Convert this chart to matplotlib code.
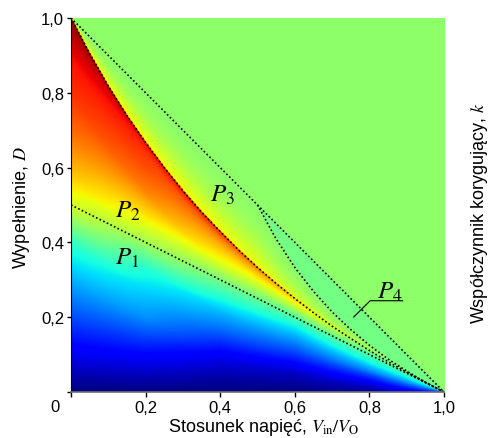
import numpy as np
import matplotlib
matplotlib.use('Agg')
import matplotlib.pyplot as plt

plt.rcParams['font.family'] = ['Liberation Sans', 'DejaVu Sans']
plt.rcParams['mathtext.fontset'] = 'stix'

# ---- data ----
# P3 boundary curve (D vs Vin/Vo)
ratio_pts = [0.0, 0.05, 0.1, 0.15, 0.2, 0.25, 0.3, 0.35, 0.4, 0.45, 0.5,
             0.55, 0.6, 0.65, 0.7, 0.75, 0.8, 0.85, 0.9, 0.95, 1.0]
p3_boundary_D = [1.0, 0.905, 0.818, 0.739, 0.667, 0.6, 0.538, 0.481, 0.429, 0.379, 0.333,
                 0.290, 0.25, 0.212, 0.176, 0.143, 0.111, 0.081, 0.053, 0.026, 0.0]
# P4 boundary curve
p4_ratio = [0.5, 0.55, 0.6, 0.65, 0.7, 0.75, 0.8, 0.85, 0.9, 0.95, 1.0]
p4_boundary_D = [0.5, 0.409, 0.333, 0.269, 0.214, 0.167, 0.125, 0.088, 0.056, 0.026, 0.0]
# straight boundaries
ccm_ratio = [0.0, 1.0]
ccm_D = [1.0, 0.0]
p1_ratio = [0.0, 1.0]
p1_D = [0.5, 0.0]

# k (colour scale 0..1) below the P3 boundary, at columns of Vin/Vo,
# sampled at fractions u of the height up to the P3 boundary
k_cols_x = [0.0, 0.2, 0.4, 0.6, 0.8, 1.0]
k_rows_u = [0.0, 0.1, 0.2, 0.3, 0.4, 0.5, 0.6, 0.7, 0.8, 0.9, 0.95, 0.98, 1.0]
k_col_00 = [0.00, 0.10, 0.20, 0.30, 0.41, 0.61, 0.72, 0.80, 0.86, 0.90, 0.94, 0.97, 1.00]
k_col_02 = [0.00, 0.08, 0.17, 0.27, 0.33, 0.40, 0.55, 0.66, 0.77, 0.83, 0.85, 0.88, 0.93]
k_col_04 = [0.00, 0.04, 0.09, 0.16, 0.24, 0.31, 0.40, 0.50, 0.62, 0.71, 0.77, 0.83, 0.90]
k_col_06 = [0.00, 0.03, 0.06, 0.12, 0.18, 0.24, 0.30, 0.37, 0.45, 0.58, 0.64, 0.68, 0.72]
k_col_08 = [0.02, 0.05, 0.09, 0.14, 0.19, 0.26, 0.31, 0.37, 0.41, 0.45, 0.48, 0.49, 0.50]
k_col_10 = [0.15, 0.18, 0.21, 0.24, 0.27, 0.30, 0.33, 0.36, 0.39, 0.42, 0.44, 0.45, 0.45]
# excess of k just above the P3 boundary
above_x = [0.0, 0.3, 0.5, 0.75, 1.0]
above_amp = [0.13, 0.13, 0.12, 0.06, 0.0]
k_plateau = 0.52
k_p4 = 0.49

x_ticks = [0.0, 0.2, 0.4, 0.6, 0.8, 1.0]
x_ticklabels = ['', '0,2', '0,4', '0,6', '0,8', '1,0']
y_ticks = [0.0, 0.2, 0.4, 0.6, 0.8, 1.0]
y_ticklabels = ['', '0,2', '0,4', '0,6', '0,8', '1,0']

# ---- build field ----
N = 600
g = (np.arange(N) + 0.5) / N
X, Y = np.meshgrid(g, g)
om = 1.0 - X
Dc = np.interp(X, ratio_pts, p3_boundary_D)
U = np.clip(Y / np.maximum(Dc, 1e-9), 0, 1)
cols = [k_col_00, k_col_02, k_col_04, k_col_06, k_col_08, k_col_10]
colvals = np.array([np.interp(U, k_rows_u, c) for c in cols])
cx = np.array(k_cols_x)
idx = np.clip(np.searchsorted(cx, X, side='right') - 1, 0, len(cx) - 2)
w = (X - cx[idx]) / (cx[idx + 1] - cx[idx])
lo = np.take_along_axis(colvals, idx[None], 0)[0]
hi = np.take_along_axis(colvals, (idx + 1)[None], 0)[0]
below_vals = lo * (1 - w) + hi * w

Dp4 = np.where(X >= 0.5, np.interp(X, p4_ratio, p4_boundary_D), 1.0)
Dtop = np.minimum(om, Dp4)
K = np.full_like(X, k_plateau)
below = Y < Dc
K[below] = below_vals[below]
between = (Y >= Dc) & (Y < Dtop)
s = np.clip((Y - Dc) / np.maximum(Dtop - Dc, 1e-9), 0, 1)
amp = np.interp(X, above_x, above_amp)
K[between] = k_plateau + amp[between] * (1 - s[between]) ** 2
p4reg = (Y >= Dp4) & (Y < om)
K[p4reg] = k_p4

fig = plt.figure(figsize=(4.93, 4.39), dpi=100)
ax = fig.add_axes([0.144, 0.1048, 0.7566, 0.852])
ax.imshow(K, extent=(0, 1, 0, 1), origin='lower', cmap='jet', vmin=0, vmax=1,
          aspect='auto', interpolation='bilinear')

dots = dict(color='black', lw=1.2, linestyle=(0, (1.0, 1.4)))
ax.plot(ccm_ratio, ccm_D, **dots)
ax.plot(p1_ratio, p1_D, **dots)
ax.plot(ratio_pts, p3_boundary_D, **dots)
ax.plot(p4_ratio, p4_boundary_D, **dots)

ax.text(0.118, 0.342, r'$P_1$', fontsize=18, ha='left', va='baseline')
ax.text(0.118, 0.468, r'$P_2$', fontsize=18, ha='left', va='baseline')
ax.text(0.373, 0.511, r'$P_3$', fontsize=18, ha='left', va='baseline')
ax.text(0.820, 0.253, r'$P_4$', fontsize=18, ha='left', va='baseline')
ax.plot([0.758, 0.802, 0.889], [0.2005, 0.244, 0.244], color='black', lw=0.8)

ax.set_xlim(0, 1)
ax.set_ylim(0, 1)
ax.set_xticks(x_ticks)
ax.set_xticklabels(x_ticklabels)
ax.set_yticks(y_ticks)
ax.set_yticklabels(y_ticklabels)
ax.tick_params(axis='x', direction='out', length=3.8, width=1, pad=2, labelsize=12)
ax.tick_params(axis='y', direction='out', length=3, width=1, pad=2, labelsize=12)
for sp in ['top', 'right']:
    ax.spines[sp].set_visible(False)
ax.spines['left'].set_color('black')
ax.spines['bottom'].set_color('#707070')
ax.spines['bottom'].set_linewidth(1.2)

fig.text(55 / 493, (439 - 408) / 439, '0', fontsize=12, ha='center', va='center')
fig.text(264 / 493, (439 - 432) / 439, r'Stosunek napięć, $V_{\mathrm{in}}/V_{\mathrm{O}}$',
         fontsize=13, ha='center', va='baseline')
fig.text(22 / 493, (439 - 208) / 439, r'Wypełnienie, $D$', fontsize=13,
         ha='center', va='center', rotation=90)
fig.text(479 / 493, (439 - 213) / 439, r'Współczynnik korygujący, $k$', fontsize=13,
         ha='center', va='center', rotation=90)

fig.savefig('out.png', dpi=100)
